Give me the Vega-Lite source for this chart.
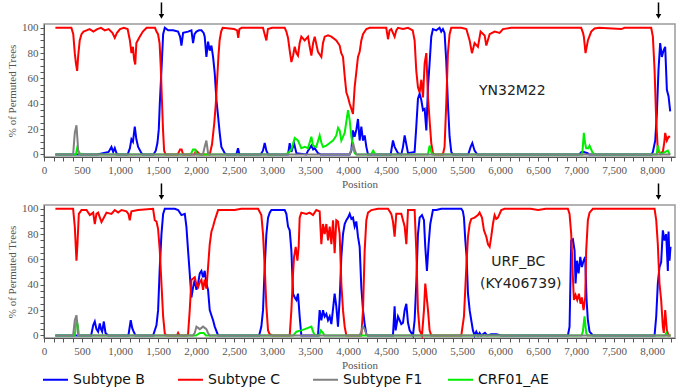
{
  "$schema": "https://vega.github.io/schema/vega-lite/v6.json",
  "background": "white",
  "padding": {"left": 5, "top": 0, "right": 4, "bottom": 2},
  "spacing": 48,
  "bounds": "flush",
  "resolve": {"scale": {"color": "shared"}, "legend": {"color": "shared"}},
  "config": {
    "font": "Liberation Sans Narrow",
    "view": {"stroke": "#9a9a9a", "strokeWidth": 1.5},
    "axis": {"grid": false, "domainColor": "#555555", "tickColor": "#555555", "labelColor": "#555555", "titleColor": "#555555", "labelFont": "Liberation Sans Narrow", "titleFont": "Liberation Sans Narrow", "labelFontSize": 11, "titleFontSize": 11, "titleFontWeight": "normal", "tickSize": 4, "labelPadding": 2, "labelOverlap": false, "labelFlush": false},
    "line": {"strokeWidth": 2}
  },
  "datasets": {
    "topB": [{"p":150,"v":0},{"p":700,"v":0},{"p":850,"v":2},{"p":887,"v":6},{"p":910,"v":2},{"p":931,"v":5},{"p":960,"v":0},{"p":1100,"v":0},{"p":1130,"v":5},{"p":1150,"v":12},{"p":1170,"v":10},{"p":1194,"v":22},{"p":1215,"v":12},{"p":1238,"v":6},{"p":1282,"v":1},{"p":1300,"v":0},{"p":1440,"v":0},{"p":1470,"v":3},{"p":1492,"v":9},{"p":1510,"v":20},{"p":1523,"v":40},{"p":1545,"v":67},{"p":1567,"v":95},{"p":1589,"v":100},{"p":1632,"v":98},{"p":1698,"v":98},{"p":1764,"v":97},{"p":1790,"v":93},{"p":1808,"v":86},{"p":1830,"v":96},{"p":1895,"v":97},{"p":1939,"v":98},{"p":1961,"v":88},{"p":1980,"v":95},{"p":2005,"v":97},{"p":2040,"v":98},{"p":2071,"v":98},{"p":2100,"v":96},{"p":2114,"v":93},{"p":2136,"v":77},{"p":2158,"v":89},{"p":2180,"v":82},{"p":2202,"v":86},{"p":2224,"v":77},{"p":2246,"v":64},{"p":2268,"v":43},{"p":2290,"v":30},{"p":2311,"v":17},{"p":2333,"v":6},{"p":2377,"v":1},{"p":2400,"v":0},{"p":2530,"v":0},{"p":2552,"v":5},{"p":2570,"v":0},{"p":2850,"v":0},{"p":2880,"v":3},{"p":2903,"v":9},{"p":2925,"v":3},{"p":2950,"v":0},{"p":3210,"v":0},{"p":3232,"v":9},{"p":3254,"v":2},{"p":3289,"v":9},{"p":3320,"v":1},{"p":3450,"v":0},{"p":3473,"v":3},{"p":3517,"v":7},{"p":3540,"v":4},{"p":3561,"v":5},{"p":3604,"v":1},{"p":3640,"v":0},{"p":4020,"v":0},{"p":4043,"v":3},{"p":4064,"v":19},{"p":4086,"v":14},{"p":4110,"v":20},{"p":4130,"v":28},{"p":4152,"v":11},{"p":4174,"v":22},{"p":4196,"v":11},{"p":4218,"v":15},{"p":4240,"v":6},{"p":4262,"v":0},{"p":4560,"v":0},{"p":4590,"v":11},{"p":4612,"v":6},{"p":4656,"v":1},{"p":4700,"v":0},{"p":4722,"v":6},{"p":4744,"v":15},{"p":4766,"v":8},{"p":4788,"v":1},{"p":4875,"v":2},{"p":4897,"v":22},{"p":4919,"v":44},{"p":4941,"v":48},{"p":4963,"v":43},{"p":4985,"v":35},{"p":5007,"v":36},{"p":5029,"v":19},{"p":5051,"v":53},{"p":5072,"v":72},{"p":5094,"v":93},{"p":5116,"v":99},{"p":5160,"v":98},{"p":5203,"v":100},{"p":5225,"v":97},{"p":5247,"v":99},{"p":5269,"v":96},{"p":5291,"v":74},{"p":5313,"v":40},{"p":5335,"v":14},{"p":5357,"v":2},{"p":5379,"v":0},{"p":5580,"v":0},{"p":5612,"v":6},{"p":5634,"v":9},{"p":5664,"v":3},{"p":5699,"v":0},{"p":7040,"v":0},{"p":7070,"v":2},{"p":7100,"v":2},{"p":7150,"v":1},{"p":7170,"v":0},{"p":7990,"v":0},{"p":8009,"v":2},{"p":8040,"v":11},{"p":8061,"v":32},{"p":8083,"v":67},{"p":8105,"v":88},{"p":8127,"v":77},{"p":8149,"v":82},{"p":8171,"v":85},{"p":8193,"v":51},{"p":8215,"v":46},{"p":8237,"v":34}],
    "topC": [{"p":150,"v":100},{"p":360,"v":100},{"p":385,"v":95},{"p":405,"v":80},{"p":420,"v":72},{"p":436,"v":66},{"p":450,"v":78},{"p":470,"v":90},{"p":493,"v":95},{"p":520,"v":97},{"p":560,"v":98},{"p":600,"v":99},{"p":650,"v":97},{"p":700,"v":99},{"p":750,"v":100},{"p":800,"v":98},{"p":850,"v":99},{"p":900,"v":96},{"p":931,"v":92},{"p":960,"v":96},{"p":1000,"v":99},{"p":1050,"v":100},{"p":1100,"v":99},{"p":1130,"v":90},{"p":1150,"v":80},{"p":1170,"v":85},{"p":1185,"v":75},{"p":1200,"v":71},{"p":1215,"v":88},{"p":1250,"v":92},{"p":1300,"v":97},{"p":1350,"v":100},{"p":1460,"v":100},{"p":1480,"v":97},{"p":1500,"v":95},{"p":1520,"v":88},{"p":1535,"v":70},{"p":1550,"v":45},{"p":1565,"v":20},{"p":1580,"v":3},{"p":1600,"v":0},{"p":1760,"v":0},{"p":1790,"v":4},{"p":1810,"v":4},{"p":1830,"v":0},{"p":1980,"v":0},{"p":2000,"v":3},{"p":2020,"v":2},{"p":2050,"v":0},{"p":2180,"v":0},{"p":2210,"v":8},{"p":2240,"v":25},{"p":2260,"v":40},{"p":2280,"v":62},{"p":2295,"v":78},{"p":2310,"v":90},{"p":2330,"v":97},{"p":2350,"v":100},{"p":2500,"v":99},{"p":2540,"v":98},{"p":2555,"v":92},{"p":2570,"v":99},{"p":2600,"v":100},{"p":2880,"v":100},{"p":2925,"v":90},{"p":2945,"v":99},{"p":3000,"v":100},{"p":3166,"v":100},{"p":3188,"v":97},{"p":3210,"v":92},{"p":3232,"v":82},{"p":3254,"v":73},{"p":3276,"v":78},{"p":3298,"v":85},{"p":3320,"v":80},{"p":3341,"v":78},{"p":3363,"v":88},{"p":3385,"v":93},{"p":3429,"v":90},{"p":3473,"v":93},{"p":3495,"v":85},{"p":3517,"v":78},{"p":3540,"v":88},{"p":3561,"v":93},{"p":3604,"v":81},{"p":3648,"v":77},{"p":3670,"v":88},{"p":3692,"v":93},{"p":3736,"v":94},{"p":3780,"v":93},{"p":3845,"v":90},{"p":3889,"v":86},{"p":3910,"v":80},{"p":3933,"v":77},{"p":3955,"v":62},{"p":3977,"v":49},{"p":4000,"v":45},{"p":4021,"v":40},{"p":4043,"v":36},{"p":4064,"v":32},{"p":4086,"v":53},{"p":4108,"v":65},{"p":4130,"v":77},{"p":4152,"v":81},{"p":4174,"v":90},{"p":4196,"v":95},{"p":4240,"v":99},{"p":4284,"v":100},{"p":4502,"v":100},{"p":4525,"v":91},{"p":4546,"v":98},{"p":4568,"v":99},{"p":4590,"v":96},{"p":4612,"v":93},{"p":4634,"v":98},{"p":4656,"v":100},{"p":4722,"v":99},{"p":4788,"v":100},{"p":4850,"v":98},{"p":4875,"v":90},{"p":4897,"v":66},{"p":4919,"v":53},{"p":4941,"v":49},{"p":4963,"v":59},{"p":4985,"v":45},{"p":5007,"v":72},{"p":5029,"v":80},{"p":5051,"v":45},{"p":5072,"v":27},{"p":5094,"v":9},{"p":5116,"v":1},{"p":5140,"v":0},{"p":5247,"v":0},{"p":5269,"v":6},{"p":5291,"v":40},{"p":5313,"v":80},{"p":5335,"v":95},{"p":5357,"v":100},{"p":5489,"v":100},{"p":5555,"v":99},{"p":5599,"v":90},{"p":5629,"v":80},{"p":5664,"v":88},{"p":5708,"v":85},{"p":5743,"v":97},{"p":5796,"v":94},{"p":5818,"v":86},{"p":5862,"v":95},{"p":5927,"v":97},{"p":5993,"v":96},{"p":6037,"v":99},{"p":6146,"v":100},{"p":7066,"v":100},{"p":7090,"v":96},{"p":7101,"v":93},{"p":7123,"v":80},{"p":7154,"v":90},{"p":7198,"v":97},{"p":7242,"v":99.5},{"p":7300,"v":100},{"p":7593,"v":99},{"p":7636,"v":100},{"p":7987,"v":100},{"p":8009,"v":93},{"p":8031,"v":67},{"p":8053,"v":27},{"p":8074,"v":3},{"p":8105,"v":1},{"p":8140,"v":2},{"p":8160,"v":10},{"p":8171,"v":17},{"p":8193,"v":11},{"p":8215,"v":14},{"p":8237,"v":14}],
    "topF1": [{"p":150,"v":0},{"p":383,"v":0},{"p":405,"v":17},{"p":427,"v":23},{"p":440,"v":12},{"p":449,"v":3},{"p":462,"v":0},{"p":2090,"v":0},{"p":2114,"v":6},{"p":2136,"v":11},{"p":2158,"v":1},{"p":2180,"v":0},{"p":4020,"v":0},{"p":4050,"v":5},{"p":4070,"v":8},{"p":4090,"v":3},{"p":4110,"v":0},{"p":8240,"v":0}],
    "topAE": [{"p":150,"v":0},{"p":420,"v":0},{"p":436,"v":5},{"p":460,"v":2},{"p":480,"v":0},{"p":1930,"v":0},{"p":1960,"v":4},{"p":1990,"v":4},{"p":2010,"v":0},{"p":3170,"v":0},{"p":3210,"v":1},{"p":3254,"v":4},{"p":3298,"v":13},{"p":3320,"v":12},{"p":3341,"v":11},{"p":3385,"v":5},{"p":3429,"v":6},{"p":3473,"v":5},{"p":3517,"v":14},{"p":3539,"v":7},{"p":3582,"v":6},{"p":3626,"v":15},{"p":3650,"v":9},{"p":3670,"v":6},{"p":3714,"v":7},{"p":3758,"v":9},{"p":3802,"v":11},{"p":3845,"v":15},{"p":3868,"v":21},{"p":3889,"v":19},{"p":3911,"v":11},{"p":3955,"v":17},{"p":3999,"v":35},{"p":4021,"v":27},{"p":4043,"v":14},{"p":4064,"v":6},{"p":4086,"v":1},{"p":4110,"v":0},{"p":4300,"v":0},{"p":4330,"v":3},{"p":4360,"v":0},{"p":5050,"v":0},{"p":5072,"v":7},{"p":5094,"v":2},{"p":5110,"v":0},{"p":7080,"v":0},{"p":7101,"v":17},{"p":7120,"v":8},{"p":7132,"v":5},{"p":7160,"v":5},{"p":7176,"v":7},{"p":7211,"v":2},{"p":7240,"v":0},{"p":8060,"v":0},{"p":8074,"v":7},{"p":8090,"v":3},{"p":8110,"v":0},{"p":8206,"v":3},{"p":8230,"v":0}],
    "botB": [{"p":150,"v":0},{"p":620,"v":0},{"p":647,"v":8},{"p":668,"v":11},{"p":690,"v":5},{"p":712,"v":3},{"p":734,"v":9.5},{"p":750,"v":5},{"p":765,"v":3},{"p":787,"v":11},{"p":809,"v":2},{"p":843,"v":0},{"p":1110,"v":0},{"p":1141,"v":12},{"p":1160,"v":6},{"p":1172,"v":4},{"p":1203,"v":0},{"p":1435,"v":0},{"p":1479,"v":8},{"p":1501,"v":20},{"p":1523,"v":54},{"p":1545,"v":80},{"p":1567,"v":96},{"p":1589,"v":100},{"p":1720,"v":100},{"p":1764,"v":99},{"p":1808,"v":95},{"p":1852,"v":96},{"p":1873,"v":86},{"p":1895,"v":67},{"p":1917,"v":49},{"p":1939,"v":30},{"p":1961,"v":38},{"p":1983,"v":44},{"p":2005,"v":36},{"p":2027,"v":41},{"p":2049,"v":49},{"p":2071,"v":51},{"p":2092,"v":46},{"p":2114,"v":51},{"p":2136,"v":41},{"p":2158,"v":36},{"p":2180,"v":20},{"p":2202,"v":16},{"p":2224,"v":12},{"p":2246,"v":7},{"p":2290,"v":0},{"p":2830,"v":0},{"p":2859,"v":7},{"p":2881,"v":20},{"p":2903,"v":54},{"p":2925,"v":80},{"p":2947,"v":93},{"p":2969,"v":97},{"p":2991,"v":99},{"p":3057,"v":99},{"p":3122,"v":99},{"p":3166,"v":99},{"p":3188,"v":96},{"p":3210,"v":86},{"p":3232,"v":83},{"p":3254,"v":67},{"p":3276,"v":33},{"p":3298,"v":30},{"p":3320,"v":28},{"p":3341,"v":33},{"p":3363,"v":15},{"p":3385,"v":0},{"p":3604,"v":0},{"p":3626,"v":20},{"p":3648,"v":12},{"p":3670,"v":20},{"p":3692,"v":15},{"p":3714,"v":17},{"p":3736,"v":12},{"p":3758,"v":15},{"p":3780,"v":9},{"p":3800,"v":20},{"p":3823,"v":33},{"p":3845,"v":23},{"p":3867,"v":7},{"p":3889,"v":28},{"p":3911,"v":62},{"p":3933,"v":80},{"p":3955,"v":88},{"p":3977,"v":91},{"p":3999,"v":93},{"p":4021,"v":96},{"p":4043,"v":92},{"p":4064,"v":93},{"p":4086,"v":86},{"p":4108,"v":90},{"p":4130,"v":78},{"p":4152,"v":70},{"p":4174,"v":38},{"p":4196,"v":20},{"p":4218,"v":9},{"p":4240,"v":1},{"p":4260,"v":0},{"p":4590,"v":0},{"p":4612,"v":23},{"p":4625,"v":4},{"p":4656,"v":15},{"p":4678,"v":12},{"p":4700,"v":9},{"p":4722,"v":10},{"p":4744,"v":20},{"p":4766,"v":25},{"p":4788,"v":10},{"p":4810,"v":4},{"p":4853,"v":0},{"p":4875,"v":12},{"p":4897,"v":41},{"p":4919,"v":80},{"p":4941,"v":93},{"p":4972,"v":95},{"p":4998,"v":91},{"p":5015,"v":70},{"p":5037,"v":51},{"p":5059,"v":72},{"p":5081,"v":88},{"p":5116,"v":99},{"p":5160,"v":99},{"p":5225,"v":100},{"p":5489,"v":100},{"p":5510,"v":98},{"p":5524,"v":93},{"p":5542,"v":75},{"p":5559,"v":62},{"p":5577,"v":33},{"p":5599,"v":20},{"p":5620,"v":12},{"p":5642,"v":4},{"p":5664,"v":0},{"p":5686,"v":3},{"p":5710,"v":0},{"p":5730,"v":2},{"p":5750,"v":0},{"p":5800,"v":2},{"p":5830,"v":0},{"p":5883,"v":1},{"p":5949,"v":1},{"p":6015,"v":0},{"p":6891,"v":0},{"p":6913,"v":7},{"p":6935,"v":75},{"p":6957,"v":76},{"p":6979,"v":67},{"p":6992,"v":41},{"p":7010,"v":59},{"p":7032,"v":49},{"p":7054,"v":62},{"p":7075,"v":54},{"p":7097,"v":59},{"p":7119,"v":62},{"p":7137,"v":28},{"p":7154,"v":12},{"p":7176,"v":3},{"p":7220,"v":0},{"p":8031,"v":0},{"p":8053,"v":15},{"p":8074,"v":41},{"p":8096,"v":54},{"p":8118,"v":58},{"p":8140,"v":83},{"p":8162,"v":75},{"p":8184,"v":80},{"p":8206,"v":51},{"p":8215,"v":82},{"p":8228,"v":59},{"p":8241,"v":70}],
    "botC": [{"p":150,"v":100},{"p":383,"v":100},{"p":405,"v":86},{"p":427,"v":59},{"p":440,"v":72},{"p":458,"v":96},{"p":493,"v":99},{"p":559,"v":99},{"p":603,"v":95},{"p":647,"v":97},{"p":668,"v":88},{"p":690,"v":96},{"p":712,"v":97},{"p":756,"v":89.5},{"p":778,"v":92},{"p":822,"v":97},{"p":887,"v":96},{"p":931,"v":99},{"p":975,"v":97},{"p":1019,"v":99},{"p":1085,"v":98},{"p":1110,"v":96},{"p":1128,"v":91},{"p":1150,"v":98},{"p":1238,"v":99},{"p":1435,"v":100},{"p":1457,"v":91},{"p":1480,"v":90},{"p":1501,"v":84},{"p":1523,"v":67},{"p":1545,"v":41},{"p":1567,"v":15},{"p":1589,"v":1.5},{"p":1610,"v":0},{"p":1750,"v":0},{"p":1764,"v":2},{"p":1780,"v":0},{"p":1880,"v":0},{"p":1895,"v":1},{"p":1917,"v":20},{"p":1939,"v":44},{"p":1961,"v":45},{"p":1983,"v":46},{"p":2005,"v":40},{"p":2027,"v":38},{"p":2049,"v":42},{"p":2071,"v":44},{"p":2092,"v":36},{"p":2114,"v":44},{"p":2136,"v":37},{"p":2158,"v":54},{"p":2180,"v":72},{"p":2202,"v":82},{"p":2224,"v":86},{"p":2246,"v":91},{"p":2268,"v":95},{"p":2290,"v":99},{"p":2377,"v":99},{"p":2508,"v":99},{"p":2596,"v":100},{"p":2816,"v":100},{"p":2859,"v":95},{"p":2881,"v":80},{"p":2903,"v":54},{"p":2925,"v":23},{"p":2947,"v":4},{"p":2969,"v":1},{"p":3000,"v":0},{"p":3232,"v":0},{"p":3254,"v":20},{"p":3276,"v":49},{"p":3289,"v":62},{"p":3311,"v":70},{"p":3333,"v":59},{"p":3350,"v":70},{"p":3363,"v":93},{"p":3385,"v":97},{"p":3451,"v":96},{"p":3495,"v":97},{"p":3539,"v":95},{"p":3582,"v":99},{"p":3626,"v":98},{"p":3648,"v":72},{"p":3670,"v":88},{"p":3692,"v":80},{"p":3714,"v":88},{"p":3736,"v":75},{"p":3758,"v":86},{"p":3780,"v":72},{"p":3802,"v":91},{"p":3823,"v":65},{"p":3845,"v":91},{"p":3867,"v":90},{"p":3889,"v":80},{"p":3911,"v":41},{"p":3933,"v":20},{"p":3955,"v":7},{"p":3977,"v":0},{"p":4174,"v":0},{"p":4196,"v":20},{"p":4218,"v":67},{"p":4240,"v":91},{"p":4262,"v":97},{"p":4306,"v":99},{"p":4393,"v":100},{"p":4525,"v":100},{"p":4568,"v":96},{"p":4590,"v":90},{"p":4612,"v":78},{"p":4634,"v":96},{"p":4700,"v":96},{"p":4744,"v":86},{"p":4766,"v":72},{"p":4788,"v":99},{"p":4875,"v":99},{"p":4897,"v":67},{"p":4919,"v":20},{"p":4941,"v":4},{"p":4972,"v":0},{"p":4998,"v":20},{"p":5015,"v":41},{"p":5029,"v":33},{"p":5051,"v":20},{"p":5072,"v":4},{"p":5094,"v":0},{"p":5489,"v":0},{"p":5524,"v":15},{"p":5555,"v":54},{"p":5577,"v":78},{"p":5599,"v":88},{"p":5620,"v":92},{"p":5664,"v":93},{"p":5708,"v":95},{"p":5730,"v":97},{"p":5761,"v":93},{"p":5787,"v":83},{"p":5818,"v":78},{"p":5840,"v":72},{"p":5862,"v":70},{"p":5883,"v":78},{"p":5905,"v":88},{"p":5927,"v":95},{"p":5949,"v":92},{"p":5971,"v":93},{"p":6015,"v":99},{"p":6059,"v":100},{"p":6400,"v":100},{"p":6500,"v":99},{"p":6600,"v":100},{"p":6891,"v":100},{"p":6913,"v":96},{"p":6935,"v":80},{"p":6957,"v":46},{"p":6970,"v":28},{"p":6992,"v":32},{"p":7014,"v":28},{"p":7036,"v":33},{"p":7058,"v":25},{"p":7075,"v":30},{"p":7097,"v":20},{"p":7119,"v":30},{"p":7132,"v":67},{"p":7154,"v":91},{"p":7176,"v":97},{"p":7220,"v":100},{"p":8031,"v":100},{"p":8053,"v":91},{"p":8074,"v":72},{"p":8096,"v":41},{"p":8118,"v":28},{"p":8140,"v":7},{"p":8153,"v":2},{"p":8171,"v":20},{"p":8193,"v":4},{"p":8215,"v":0},{"p":8241,"v":0}],
    "botF1": [{"p":150,"v":0},{"p":383,"v":0},{"p":405,"v":12},{"p":427,"v":16},{"p":440,"v":8},{"p":449,"v":0},{"p":1960,"v":0},{"p":1983,"v":2},{"p":2005,"v":7},{"p":2027,"v":6},{"p":2049,"v":5},{"p":2071,"v":6},{"p":2092,"v":7},{"p":2114,"v":6},{"p":2136,"v":5},{"p":2158,"v":2},{"p":2180,"v":0},{"p":4150,"v":0},{"p":4174,"v":3},{"p":4196,"v":7},{"p":4218,"v":5},{"p":4240,"v":1},{"p":4260,"v":0},{"p":8241,"v":0}],
    "botAE": [{"p":150,"v":0},{"p":405,"v":0},{"p":427,"v":12},{"p":445,"v":8},{"p":460,"v":0},{"p":2000,"v":0},{"p":2050,"v":2},{"p":2100,"v":2},{"p":2130,"v":0},{"p":3280,"v":0},{"p":3320,"v":3},{"p":3385,"v":4},{"p":3430,"v":5},{"p":3473,"v":6},{"p":3517,"v":7},{"p":3540,"v":3},{"p":3560,"v":0},{"p":3620,"v":0},{"p":3640,"v":4},{"p":3670,"v":2},{"p":3690,"v":0},{"p":7070,"v":0},{"p":7088,"v":3},{"p":7110,"v":15},{"p":7132,"v":2},{"p":7150,"v":0},{"p":8170,"v":0},{"p":8184,"v":2},{"p":8200,"v":0},{"p":8241,"v":0}],
    "arrows": [{"p":1545,"v":120,"v2":111},{"p":8083,"v":120,"v2":111}],
    "heads": [{"p":1545,"v":109}, {"p":8083,"v":109}],
    "topLabel": [{"p":6160,"v":50,"txt":"YN32M22"}],
    "botLabel": [{"p":6238,"v":58,"txt":"URF_BC"},{"p":6271,"v":41,"txt":"(KY406739)"}]
  },
  "vconcat": [
    {
      "width": 631, "height": 133,
      "encoding": {
        "x": {"field": "p", "type": "quantitative", "scale": {"domain": [0, 8300], "nice": false, "zero": false},
              "axis": {"title": "Position", "titlePadding": 3, "labelPadding": 3,
                       "values": [0,125,250,375,500,625,750,875,1000,1125,1250,1375,1500,1625,1750,1875,2000,2125,2250,2375,2500,2625,2750,2875,3000,3125,3250,3375,3500,3625,3750,3875,4000,4125,4250,4375,4500,4625,4750,4875,5000,5125,5250,5375,5500,5625,5750,5875,6000,6125,6250,6375,6500,6625,6750,6875,7000,7125,7250,7375,7500,7625,7750,7875,8000,8125,8250],
                       "labelExpr": "datum.value % 500 === 0 ? format(datum.value, ',') : ''"}},
        "y": {"field": "v", "type": "quantitative", "scale": {"domain": [-2, 103], "nice": false, "zero": false},
              "axis": {"title": "% of Permuted Trees", "titlePadding": 4,
                       "values": [0,5,10,15,20,25,30,35,40,45,50,55,60,65,70,75,80,85,90,95,100],
                       "labelExpr": "datum.value % 20 === 0 ? datum.label : ''"}}
      },
      "layer": [
        {"data": {"name": "topB"}, "mark": {"type": "line", "strokeWidth": 2}, "encoding": {"color": {"datum": "Subtype B", "type": "nominal", "scale": {"domain": ["Subtype B", "Subtype C", "Subtype F1", "CRF01_AE"], "range": ["#0000ff", "#ff0000", "#808080", "#00ee00"]}, "legend": {"orient": "none", "legendX": -2, "legendY": 342, "direction": "horizontal", "title": null, "symbolType": "stroke", "symbolSize": 625, "symbolStrokeWidth": 3, "labelFont": "DejaVu Sans", "labelFontSize": 14, "labelColor": "#111111", "labelOffset": 4, "columnPadding": 21, "gridAlign": "all", "labelLimit": 300}}}},
        {"data": {"name": "topC"}, "mark": {"type": "line", "strokeWidth": 2}, "encoding": {"color": {"datum": "Subtype C", "type": "nominal"}}},
        {"data": {"name": "topAE"}, "mark": {"type": "line", "strokeWidth": 2}, "encoding": {"color": {"datum": "CRF01_AE", "type": "nominal"}}},
        {"data": {"name": "topF1"}, "mark": {"type": "line", "strokeWidth": 2}, "encoding": {"color": {"datum": "Subtype F1", "type": "nominal"}}},
        {"data": {"name": "arrows"}, "mark": {"type": "rule", "color": "#000000", "strokeWidth": 1.5}, "encoding": {"y2": {"field": "v2"}}},
        {"data": {"name": "heads"}, "mark": {"type": "point", "shape": "triangle-down", "filled": true, "color": "#000000", "opacity": 1, "size": 30}, "encoding": {}},
        {"data": {"name": "topLabel"}, "mark": {"type": "text", "font": "DejaVu Sans", "fontSize": 14, "color": "#222222", "align": "center", "baseline": "middle"}, "encoding": {"text": {"field": "txt"}}}
      ]
    },
    {
      "width": 631, "height": 133,
      "encoding": {
        "x": {"field": "p", "type": "quantitative", "scale": {"domain": [0, 8300], "nice": false, "zero": false},
              "axis": {"title": "Position", "titlePadding": 3, "labelPadding": 3,
                       "values": [0,125,250,375,500,625,750,875,1000,1125,1250,1375,1500,1625,1750,1875,2000,2125,2250,2375,2500,2625,2750,2875,3000,3125,3250,3375,3500,3625,3750,3875,4000,4125,4250,4375,4500,4625,4750,4875,5000,5125,5250,5375,5500,5625,5750,5875,6000,6125,6250,6375,6500,6625,6750,6875,7000,7125,7250,7375,7500,7625,7750,7875,8000,8125,8250],
                       "labelExpr": "datum.value % 500 === 0 ? format(datum.value, ',') : ''"}},
        "y": {"field": "v", "type": "quantitative", "scale": {"domain": [-2, 103], "nice": false, "zero": false},
              "axis": {"title": "% of Permuted Trees", "titlePadding": 4,
                       "values": [0,5,10,15,20,25,30,35,40,45,50,55,60,65,70,75,80,85,90,95,100],
                       "labelExpr": "datum.value % 20 === 0 ? datum.label : ''"}}
      },
      "layer": [
        {"data": {"name": "botB"}, "mark": {"type": "line", "strokeWidth": 2}, "encoding": {"color": {"datum": "Subtype B", "type": "nominal"}}},
        {"data": {"name": "botC"}, "mark": {"type": "line", "strokeWidth": 2}, "encoding": {"color": {"datum": "Subtype C", "type": "nominal"}}},
        {"data": {"name": "botAE"}, "mark": {"type": "line", "strokeWidth": 2}, "encoding": {"color": {"datum": "CRF01_AE", "type": "nominal"}}},
        {"data": {"name": "botF1"}, "mark": {"type": "line", "strokeWidth": 2}, "encoding": {"color": {"datum": "Subtype F1", "type": "nominal"}}},
        {"data": {"name": "arrows"}, "mark": {"type": "rule", "color": "#000000", "strokeWidth": 1.5}, "encoding": {"y2": {"field": "v2"}}},
        {"data": {"name": "heads"}, "mark": {"type": "point", "shape": "triangle-down", "filled": true, "color": "#000000", "opacity": 1, "size": 30}, "encoding": {}},
        {"data": {"name": "botLabel"}, "mark": {"type": "text", "font": "DejaVu Sans", "fontSize": 14, "color": "#222222", "align": "center", "baseline": "middle"}, "encoding": {"text": {"field": "txt"}}}
      ]
    }
  ]
}
